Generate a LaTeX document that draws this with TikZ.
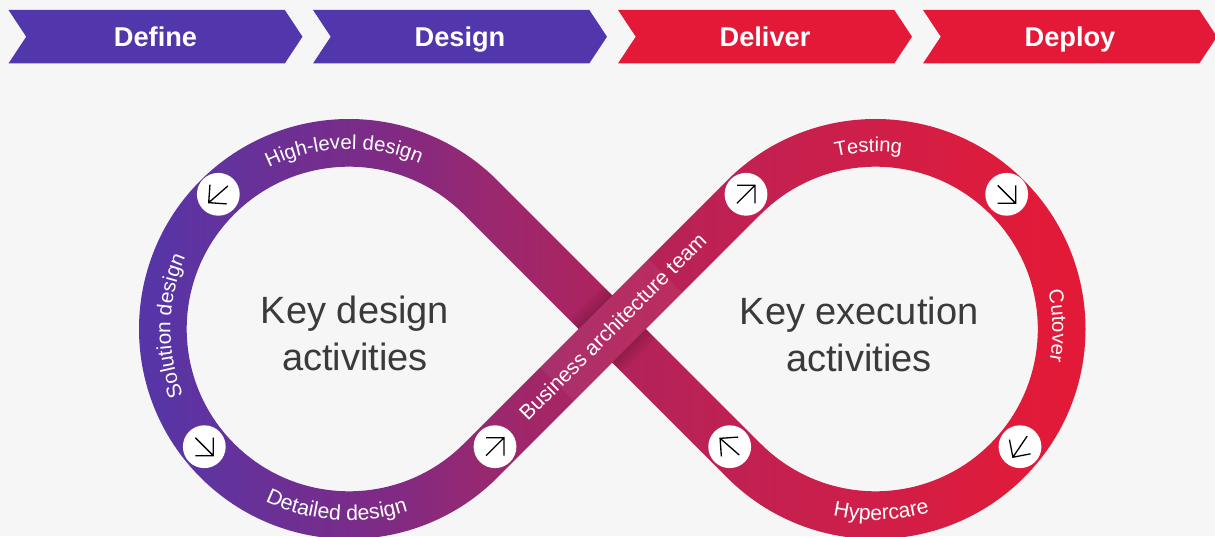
\documentclass[tikz,border=0pt]{standalone}
\usepackage{fontspec}
\setmainfont{Liberation Sans}
\usetikzlibrary{calc,shapes.symbols,decorations.text}

\definecolor{pagegrey}{HTML}{F6F6F6}
\definecolor{cgipurple}{HTML}{5236AB}
\definecolor{cgired}{HTML}{E31937}
\definecolor{bandA}{RGB}{100,50,155}
\definecolor{bandB}{RGB}{128,42,132}
\definecolor{bandC}{RGB}{152,40,112}
\definecolor{bandD}{RGB}{176,35,92}
\definecolor{bandE}{RGB}{192,33,82}
\definecolor{bandF}{RGB}{208,30,72}
\definecolor{bandG}{RGB}{224,27,58}
\definecolor{keytext}{HTML}{3A3A3A}

\pgfdeclarehorizontalshading{bandshade}{100bp}{color(0bp)=(cgipurple); color(25bp)=(cgipurple);
  color(30.9bp)=(bandA); color(38.8bp)=(bandB); color(43.5bp)=(bandC); color(50bp)=(bandD);
  color(56.2bp)=(bandE); color(63.6bp)=(bandF); color(70.5bp)=(bandG); color(75bp)=(cgired); color(100bp)=(cgired)}

\newcommand{\Rout}{210}
\newcommand{\Rin}{162.3}
\newcommand{\hdiag}{33.7}

\begin{document}
\begin{tikzpicture}
    [x=1pt,y=1pt,
    chevron/.style={signal,signal to=east,signal from=west,signal pointer angle=113,draw=none,
        minimum width=294pt,minimum height=53.5pt,inner sep=0pt,text=white,text height=20pt,text depth=0pt,
        font=\fontsize{27.2}{30}\selectfont\bfseries},
    keylabel/.style={align=center,text=keytext,font=\fontsize{38}{47}\selectfont},
    arrowdisc/.style={circle,fill=white,minimum size=42.8pt,inner sep=0pt},
    arrowline/.style={draw=black,line width=1.3pt},
    ringtext/.style 2 args={decoration={text along path,text align=center,
        text={|\fontsize{#1}{24}\selectfont\color{white}|#2}},decorate}]

    % page
    \fill[pagegrey](0,0)rectangle(1215,536);
    \useasboundingbox(0,0)rectangle(1215,536);

    % phases
    \foreach \x/\lab/\col/\n in {155.5/Define/cgipurple/define,460/Design/cgipurple/design,
        765/Deliver/cgired/deliver,1070/Deploy/cgired/deploy}
    \node[chevron,fill=\col] (\n) at (\x,499.3) {\lab};

    % centres of the two loops and the crossing
    \coordinate (cl) at (349,207);
    \coordinate (cr) at (875.5,207);
    \coordinate (cx) at (612.25,207);

    % the band
    \shade[shading=bandshade,even odd rule]
        ($(cx)+(0,\hdiag)$)--($(cl)+(45:\Rout)$)arc[start angle=45,end angle=315,radius=\Rout]
        --($(cx)+(0,-\hdiag)$)--($(cr)+(225:\Rout)$)arc[start angle=225,end angle=495,radius=\Rout]--cycle
        ($(cl)+(45:\Rin)$)arc[start angle=45,end angle=315,radius=\Rin]--($(cx)+(-\hdiag,0)$)--cycle
        ($(cr)+(225:\Rin)$)arc[start angle=225,end angle=495,radius=\Rin]--($(cx)+(\hdiag,0)$)--cycle;

    % upper strand at the crossing: lighter part and its shadow
    \begin{scope}[shift={(cx)},rotate=45]
        \fill[white,opacity=.05](-78,-23.85)rectangle(75,23.85);
        \foreach \d in {2,4,...,14}
        {\fill[black,opacity=.025](-23.85,23.85)rectangle(23.85,23.85+\d);
         \fill[black,opacity=.025](-23.85,-23.85)rectangle(23.85,-23.85-\d);}
    \end{scope}

    % arrow discs
    \foreach \n/\px/\py/\rot in {a/218.3/341.7/176,b/204.3/89.3/-90,c/495/89.3/0,d/729.7/89.3/94,
        e/1020/89.3/191,f/1006.7/341.7/-90,g/746/341.7/0}
    {\node[arrowdisc] (disc\n) at (\px,\py) {};
     \begin{scope}[shift={(disc\n.center)},rotate=\rot]
        \draw[arrowline](-9,9)--(9,9)--(9,-9)(-9,-9)--(9,9);
     \end{scope}}

    % labels on the loops
    \path[ringtext={20.3}{High-level design}]($(cl)+(131.6:180)$)arc[start angle=131.6,end angle=51.6,radius=180];
    \path[ringtext={20.7}{Solution design}]($(cl)+(219:178.5)$)arc[start angle=219,end angle=139,radius=178.5];
    \path[ringtext={21.3}{Detailed design}]($(cl)+(226:191.5)$)arc[start angle=226,end angle=306,radius=191.5];
    \path[ringtext={20.1}{Testing}]($(cr)+(132.3:177)$)arc[start angle=132.3,end angle=52.3,radius=177];
    \path[ringtext={20.3}{Cutover}]($(cr)+(41:177)$)arc[start angle=41,end angle=-39,radius=177];
    \path[ringtext={21.2}{Hypercare}]($(cr)+(231.8:191)$)arc[start angle=231.8,end angle=311.8,radius=191];
    \node[rotate=45,text=white,font=\fontsize{21.1}{24}\selectfont] (team) at (612.5,209.5) {Business architecture team};

    % centre texts
    \node[keylabel] (keydesign) at (355,202.5) {Key design\\activities};
    \node[keylabel] (keyexec) at (859,201.5) {Key execution\\activities};
\end{tikzpicture}
\end{document}
